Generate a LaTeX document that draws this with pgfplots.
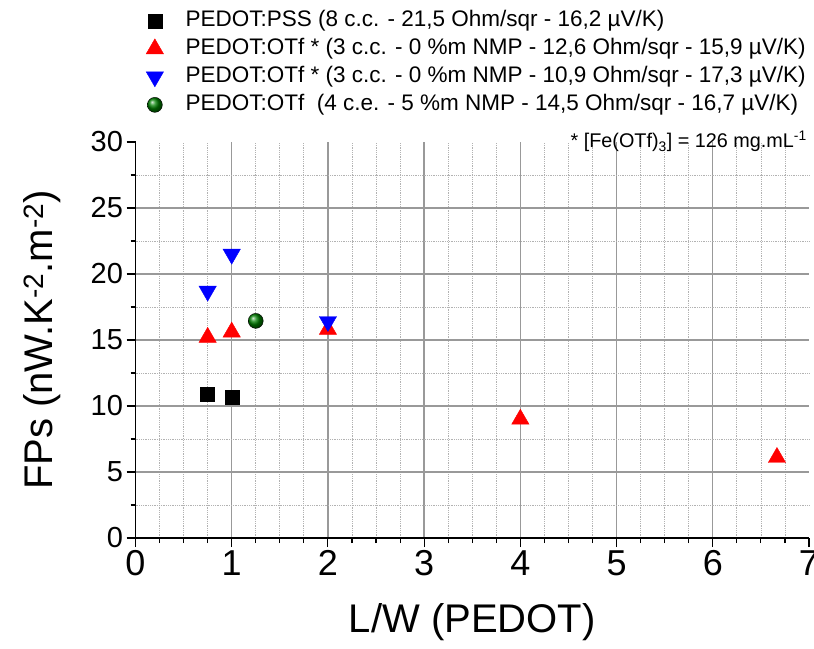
\documentclass[border=0pt]{standalone}
\usepackage{fontspec}
\setmainfont{Liberation Sans}
\usepackage{pgfplots}
\pgfplotsset{compat=1.18}
\definecolor{ogreen}{RGB}{0,128,0}
\begin{document}
\begin{tikzpicture}
\useasboundingbox (0,0) rectangle (814pt,648pt);
\begin{axis}[
  at={(135.5pt,110pt)}, anchor=south west,
  scale only axis, width=673.5pt, height=396pt,
  xmin=0, xmax=7, ymin=0, ymax=30,
  xtick={0,1,...,6}, ytick={0,5,...,25},
  extra x ticks={7}, extra y ticks={30},
  extra tick style={grid=none},
  minor xtick={0.25,0.5,0.75,1.25,1.5,1.75,2.25,2.5,2.75,3.25,3.5,3.75,4.25,4.5,4.75,5.25,5.5,5.75,6.25,6.5,6.75},
  minor ytick={2.5,7.5,12.5,17.5,22.5,27.5},
  axis x line*=bottom, axis y line*=left,
  axis line style={line width=1.2pt, black, -},
  tick align=outside,
  major tick length=9pt, minor tick length=5pt,
  tick style={line width=1.1pt, black},
  grid=both,
  major grid style={line width=1.3pt, black!40},
  minor grid style={line width=0.8pt, black!30, densely dotted},
  /pgf/number format/assume math mode=true,
  xticklabel style={font=\fontsize{36}{40}\selectfont},
  yticklabel style={font=\fontsize{29}{32}\selectfont},
  xlabel={L/W (PEDOT)},
  ylabel={FPs (nW.K\textsuperscript{-2}.m\textsuperscript{-2})},
  label style={font=\fontsize{40}{44}\selectfont},
  xlabel style={at={(axis description cs:0.5,-0.212)}, anchor=center},
  ylabel style={at={(axis description cs:-0.138,0.5)}, anchor=center, rotate=0},
  legend style={draw=none, fill=none, font=\fontsize{22.5}{25}\selectfont,
    at={(axis description cs:0.0156,1.333)}, anchor=north west,
    row sep=7pt, column sep=22pt, inner sep=0pt,
    nodes={inner sep=0pt, text height=16pt, text depth=5pt}},
  legend cell align=left,
  legend image code/.code={\draw[mark repeat=2,mark phase=2,#1] plot coordinates {(0pt,0pt)(10pt,0pt)(20pt,0pt)};},
  clip=false,
]
\addplot[only marks, mark=square*, mark size=7pt, black] coordinates {
 (0.75,10.9) (1,10.65)};
\addlegendentry{PEDOT:PSS (8 c.c. - 21,5 Ohm/sqr - 16,2 µV/K)}
\addplot[only marks, mark=triangle*, mark size=10pt, red] coordinates {
 (0.75,15.2) (1,15.6) (2,15.8) (4,9.0) (6.667,6.1)};
\addlegendentry{PEDOT:OTf * (3 c.c. - 0 \%m NMP - 12,6 Ohm/sqr - 15,9 µV/K)}
\addplot[only marks, mark=triangle*, mark size=10pt, blue, mark options={rotate=180}] coordinates {
 (0.75,18.7) (1,21.5) (2,16.4)};
\addlegendentry{PEDOT:OTf * (3 c.c. - 0 \%m NMP - 10,9 Ohm/sqr - 17,3 µV/K)}
\addplot[only marks, mark=ball, mark size=7.5pt, ball color=ogreen] coordinates {
 (1.25,16.45)};
\addlegendentry{PEDOT:OTf\ \ (4 c.e. - 5 \%m NMP - 14,5 Ohm/sqr - 16,7 µV/K)}
\node[anchor=base east, font=\fontsize{19.8}{22}\selectfont, inner sep=0pt]
  at ([yshift=-6pt,xshift=-2pt]rel axis cs:1,1) {* [Fe(OTf)\textsubscript{3}] = 126 mg.mL\textsuperscript{-1}};
\end{axis}
\end{tikzpicture}
\end{document}
